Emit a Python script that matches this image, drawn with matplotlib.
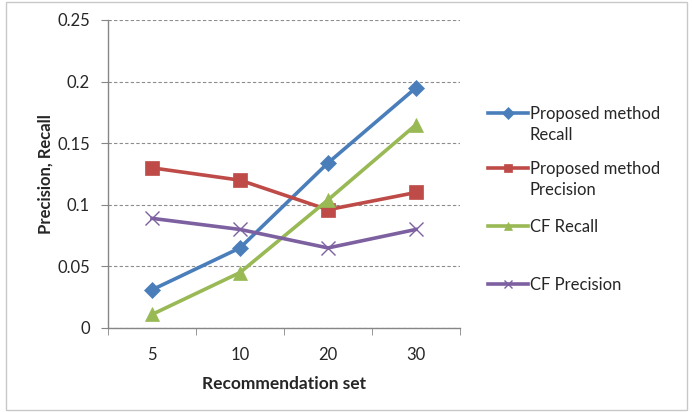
import matplotlib
matplotlib.use("Agg")
import matplotlib.pyplot as plt
from matplotlib.lines import Line2D
from matplotlib.patches import Rectangle

categories = ["5", "10", "20", "30"]
proposed_recall = [0.031, 0.065, 0.134, 0.195]
proposed_precision = [0.130, 0.120, 0.096, 0.110]
cf_recall = [0.011, 0.045, 0.104, 0.165]
cf_precision = [0.089, 0.080, 0.065, 0.080]
yticks = [0, 0.05, 0.1, 0.15, 0.2, 0.25]
ytick_labels = ["0", "0.05", "0.1", "0.15", "0.2", "0.25"]

plt.rcParams['font.family'] = ['Lato', 'DejaVu Sans']

fig = plt.figure(figsize=(6.92, 4.12), dpi=100)
ax = fig.add_axes([108/692, 1-328/412, (460-108)/692, (328-20)/412])

x = list(range(len(categories)))
series = [
    (proposed_recall, "#4A7EBB", "D", 8, ["Proposed method", "Recall"]),
    (proposed_precision, "#BE4B48", "s", 10, ["Proposed method", "Precision"]),
    (cf_recall, "#98B954", "^", 10, ["CF Recall"]),
    (cf_precision, "#7D60A0", "x", 10, ["CF Precision"]),
]
lines = []
for vals, col, mk, ms, lab in series:
    ln, = ax.plot(x, vals, color=col, marker=mk, markersize=ms, linewidth=2.6,
                  markeredgewidth=1.0 if mk == "x" else 0.5, markeredgecolor=col,
                  zorder=3)
    lines.append(ln)

ax.set_xlim(-0.5, 3.5)
ax.set_ylim(0, 0.25)
ax.set_yticks(yticks)
ax.set_yticklabels(ytick_labels, fontsize=12, color="#262626")
ax.set_xticks(x)
ax.set_xticklabels(categories, fontsize=12, color="#262626")
ax.tick_params(axis="x", which="major", length=0, pad=14)
ax.set_xticks([-0.5, 0.5, 1.5, 2.5, 3.5], minor=True)
ax.tick_params(axis="x", which="minor", length=5, color="#868686", direction="out")
ax.tick_params(axis="y", length=5, color="#868686", direction="out", pad=8)
ax.grid(axis="y", linestyle=(0, (3, 2)), color="#8C8C8C", linewidth=0.8)
ax.set_axisbelow(True)
for s in ["top", "right"]:
    ax.spines[s].set_visible(False)
for s in ["left", "bottom"]:
    ax.spines[s].set_color("#868686")
    ax.spines[s].set_linewidth(1.0)

ax.set_xlabel("Recommendation set", fontsize=12.5, fontweight="bold", labelpad=9,
              color="#262626")
ax.set_ylabel("Precision, Recall", fontsize=12, fontweight="bold", labelpad=3,
              color="#262626")

# legend entries
tops = [106, 161, 219, 277]
invisible = Line2D([], [], linestyle="none")
for (vals, col, mk, ms, lab), ln, top in zip(series, lines, tops):
    handles = [ln] + [invisible] * (len(lab) - 1)
    leg = fig.legend(handles, lab, loc="upper left",
                     bbox_to_anchor=(488/692, 1 - top/412),
                     frameon=False, fontsize=12, handlelength=2.4,
                     handletextpad=0.1, labelspacing=0.3,
                     borderaxespad=0, borderpad=0)
    for t in leg.get_texts():
        t.set_color("#262626")
    for h in leg.legend_handles:
        if h is not None and h.get_marker() not in (None, "none", "None", ""):
            h.set_markersize(6)

fig.patches.append(Rectangle((6/692, 2/412), 681/692, 408/412, transform=fig.transFigure,
                             fill=False, edgecolor="#C8C8C8", linewidth=1.0))

fig.savefig("out.png", dpi=100)
